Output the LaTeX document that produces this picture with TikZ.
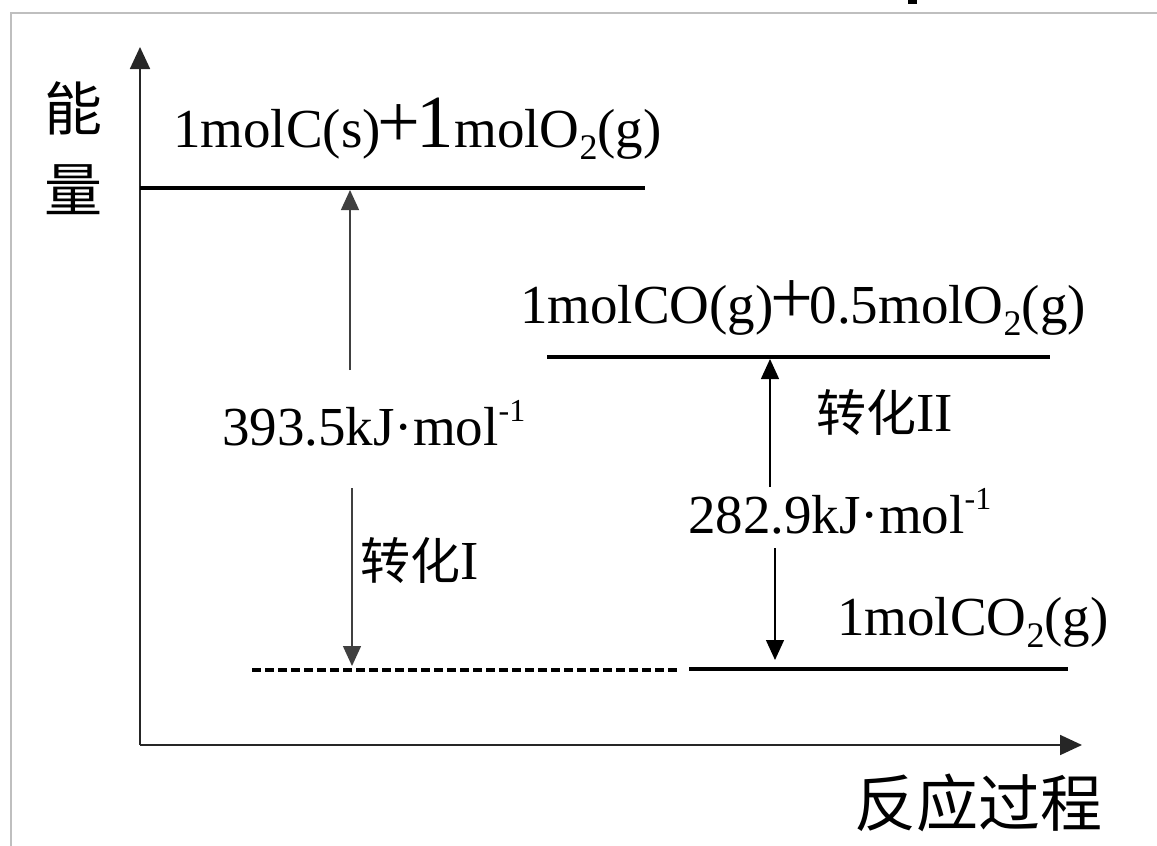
\documentclass[tikz,border=0pt]{standalone}
\usepackage{fontspec}
\setmainfont{Liberation Serif}
\newfontfamily\cjk{Noto Sans CJK SC}
\usetikzlibrary{arrows.meta}
\newcommand{\sbt}[1]{\raisebox{-0.22em}{\fontsize{36}{36}\selectfont #1}}
\newcommand{\spt}[1]{\raisebox{0.42em}{\fontsize{32}{32}\selectfont #1}}
\newcommand{\bplus}{{\fontsize{76}{76}\selectfont\kern-3.5pt+\kern-3.5pt}}
\begin{document}
\begin{tikzpicture}[x=1pt,y=-1pt,
  lbl/.style={inner sep=0pt, anchor=base west, font=\fontsize{55}{60}\selectfont},
  cn/.style={inner sep=0pt, anchor=west, font=\fontsize{50}{54}\selectfont},
  ax/.style={inner sep=0pt, font=\cjk\fontsize{58}{60}\selectfont},
  level/.style={line width=3.2pt, black},
  axis/.style={line width=1.8pt, black!85, -{Triangle[length=22pt,width=20pt]}},
  shaft/.style={line width=1.4pt, black!75},
  tipa/.style={-{Triangle[length=20pt,width=18pt]}}
]
\useasboundingbox (0,0) rectangle (1157,846);
% frame
\draw[black!25, line width=2pt] (11,846) -- (11,13) -- (1157,13);
\fill (908,0) rectangle (917,4);
% axes
\coordinate (O) at (140,745);
\coordinate (Ytip) at (140,47);
\coordinate (Xtip) at (1082,745);
\draw[axis] (O) -- (Ytip);
\draw[axis] (O) -- (Xtip);
\node[ax] (e1) at (73,108) {能};
\node[ax] (e2) at (73,190) {量};
\node[ax, anchor=east, font=\cjk\fontsize{62}{64}\selectfont] (proc) at (1103,803) {反应过程};
% levels
\coordinate (L1a) at (140,188); \coordinate (L1b) at (645,188);
\coordinate (L2a) at (547,357); \coordinate (L2b) at (1050,357);
\coordinate (L3a) at (689,669); \coordinate (L3b) at (1068,669);
\coordinate (Da) at (252,670); \coordinate (Db) at (677,670);
\draw[level] (L1a) -- (L1b);
\draw[level] (L2a) -- (L2b);
\draw[level] (L3a) -- (L3b);
\draw[level, dash pattern=on 9pt off 4pt] (Da) -- (Db);
% level labels
\node[lbl] (t1) at (173,147) {1molC(s)\bplus{\fontsize{75}{75}\selectfont 1}molO\sbt{2}(g)};
\node[lbl] (t2) at (520,323) {1molCO(g)\bplus 0.5molO\sbt{2}(g)};
\node[lbl] (t3) at (837,635) {1molCO\sbt{2}(g)};
% energy labels
\node[lbl] (h1) at (222,445) {393.5kJ·mol\spt{-1}};
\node[lbl] (h2) at (688,533) {282.9kJ·mol\spt{-1}};
\node[cn] (c1) at (360,561) {{\cjk 转化}\fontsize{55}{60}\selectfont I};
\node[cn] (c2) at (816,413) {{\cjk 转化}\fontsize{55}{60}\selectfont II};
% arrow I
\coordinate (A1top) at (350,190);
\coordinate (A1m1) at (350,370);
\coordinate (A1m2) at (352,488);
\coordinate (A1bot) at (352,666);
\draw[shaft, tipa] (A1m1) -- (A1top);
\draw[shaft, tipa] (A1m2) -- (A1bot);
% arrow II
\coordinate (A2top) at (770,359);
\coordinate (A2m1) at (770,487);
\coordinate (A2m2) at (775,548);
\coordinate (A2bot) at (775,660);
\draw[shaft, black, tipa] (A2m1) -- (A2top);
\draw[shaft, black, tipa] (A2m2) -- (A2bot);
\end{tikzpicture}
\end{document}
